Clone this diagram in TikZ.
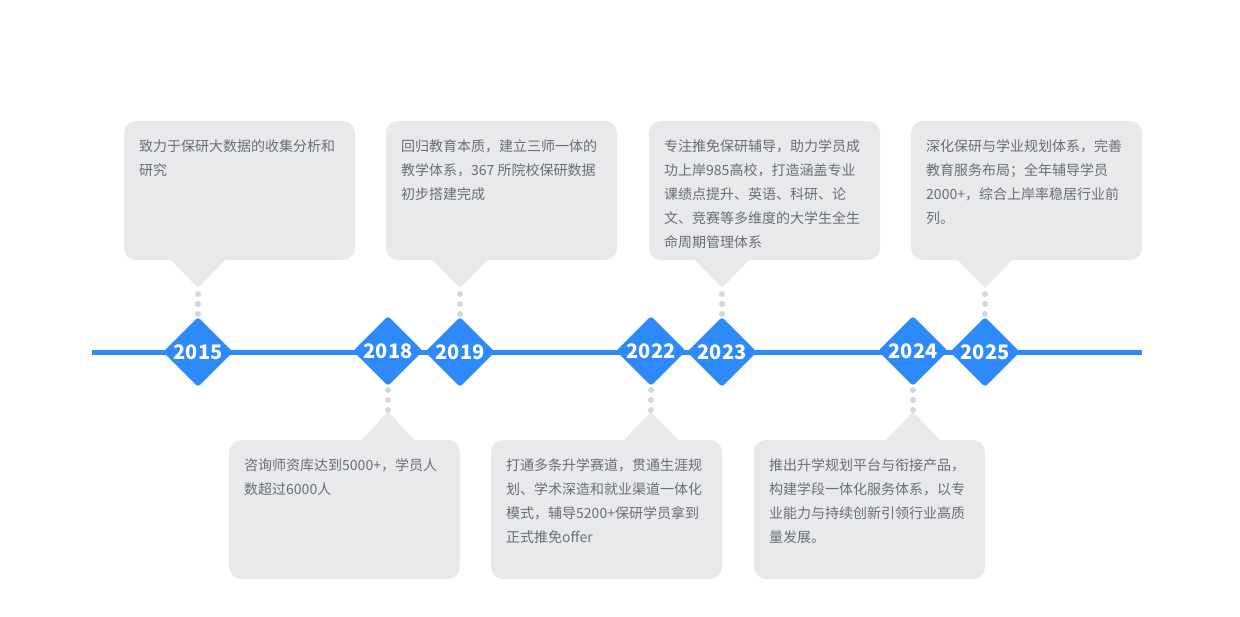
\documentclass[tikz,border=0pt]{standalone}
\usepackage{fontspec}
\setmainfont{Noto Sans CJK SC}
\usetikzlibrary{shapes.geometric}
\definecolor{boxg}{HTML}{E8E9EB}
\definecolor{txt}{HTML}{6A6E75}
\definecolor{blu}{HTML}{2E89FB}
\definecolor{dotc}{HTML}{D5D7DD}
\begin{document}
\begin{tikzpicture}[x=1pt,y=-1pt,
 box/.style={fill=boxg,rounded corners=12pt},
 txtn/.style={anchor=north west,align=left,font=\fontsize{14pt}{24pt}\selectfont,text=txt,inner sep=0pt},
 yr/.style={diamond,fill=blu,minimum width=70pt,minimum height=70pt,inner sep=0pt,rounded corners=3pt,text=white,font=\bfseries\fontsize{20pt}{20pt}\selectfont},
 dot/.style={circle,fill=dotc,inner sep=0pt,minimum size=6pt}]
\useasboundingbox (0,0) rectangle (1240,616);
\draw[blu,line width=5pt] (92,352) -- (1142,352);
\foreach \bx/\cx/\n in {124/198/a,386/460/b,649/722/c,911/985/d}{
 \fill[box] (\bx,121) rectangle ++(231,139);
 \fill[boxg] (\cx-28,259) -- (\cx+28,259) -- (\cx,288) -- cycle;
 \foreach \yy in {294,304,314} \node[dot] at (\cx,\yy) {};
}
\foreach \bx/\cx in {229/388,491/651,754/913}{
 \fill[box] (\bx,440) rectangle ++(231,139);
 \fill[boxg] (\cx-28,441) -- (\cx+28,441) -- (\cx,412) -- cycle;
 \foreach \yy in {390,400,410} \node[dot] at (\cx,\yy) {};
}
\node[yr] (y15) at (198,352) {2015};
\node[yr] (y18) at (388,351) {2018};
\node[yr] (y19) at (460,352) {2019};
\node[yr] (y22) at (651,351) {2022};
\node[yr] (y23) at (722,352) {2023};
\node[yr] (y24) at (913,351) {2024};
\node[yr] (y25) at (985,352) {2025};
\node[txtn] (t15) at (139,139) {致力于保研大数据的收集分析和\\研究};
\node[txtn] (t19) at (401,139) {回归教育本质，建立三师一体的\\教学体系，367 所院校保研数据\\初步搭建完成};
\node[txtn] (t23) at (664,139) {专注推免保研辅导，助力学员成\\功上岸985高校，打造涵盖专业\\课绩点提升、英语、科研、论\\文、竞赛等多维度的大学生全生\\命周期管理体系};
\node[txtn] (t25) at (926,139) {深化保研与学业规划体系，完善\\教育服务布局；全年辅导学员\\2000+，综合上岸率稳居行业前\\列。};
\node[txtn] (t18) at (244,458) {咨询师资库达到5000+，学员人\\数超过6000人};
\node[txtn] (t22) at (506,458) {打通多条升学赛道，贯通生涯规\\划、学术深造和就业渠道一体化\\模式，辅导5200+保研学员拿到\\正式推免offer};
\node[txtn] (t24) at (769,458) {推出升学规划平台与衔接产品，\\构建学段一体化服务体系，以专\\业能力与持续创新引领行业高质\\量发展。};
\end{tikzpicture}
\end{document}
